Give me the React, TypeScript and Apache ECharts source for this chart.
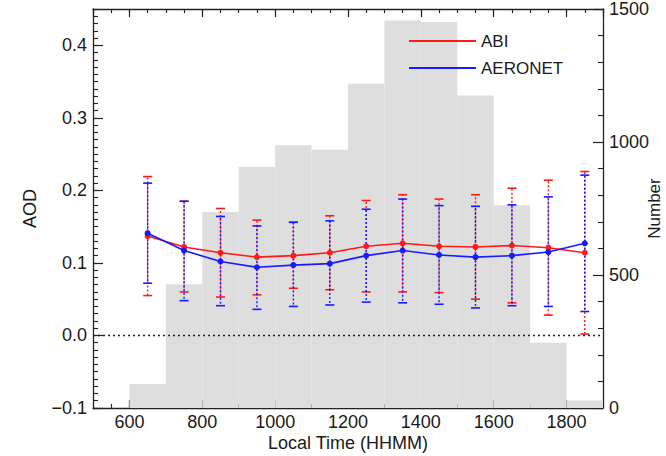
import React, { useEffect, useRef } from "react";
import * as echarts from "echarts";

// Histogram of sample counts per local-time bin (right axis)
const binStarts = [600, 700, 800, 900, 1000, 1100, 1200, 1300, 1400, 1500, 1600, 1700, 1800];
const binWidth = 100;
const binCounts = [90, 465, 737, 906, 988, 971, 1219, 1457, 1451, 1175, 762, 245, 28];

// Hourly AOD statistics (left axis)
const hours = [650, 750, 850, 950, 1050, 1150, 1250, 1350, 1450, 1550, 1650, 1750, 1850];
const abiMean = [0.137, 0.122, 0.114, 0.108, 0.110, 0.114, 0.123, 0.127, 0.123, 0.122, 0.124, 0.121, 0.114];
const abiHigh = [0.219, 0.185, 0.175, 0.159, 0.156, 0.165, 0.186, 0.194, 0.188, 0.194, 0.203, 0.214, 0.226];
const abiLow = [0.055, 0.060, 0.053, 0.056, 0.065, 0.063, 0.060, 0.060, 0.059, 0.050, 0.045, 0.028, 0.002];
const aeroMean = [0.141, 0.117, 0.102, 0.094, 0.097, 0.099, 0.110, 0.117, 0.111, 0.108, 0.110, 0.115, 0.127];
const aeroHigh = [0.210, 0.185, 0.164, 0.151, 0.156, 0.158, 0.174, 0.188, 0.179, 0.178, 0.180, 0.191, 0.221];
const aeroLow = [0.072, 0.048, 0.041, 0.036, 0.040, 0.042, 0.046, 0.045, 0.043, 0.038, 0.041, 0.040, 0.033];

const FONT = "Liberation Sans";
const TXT = "#1a1a1a";
const AX = "#222";
const RED = "#ff1a1a";
const BLUE = "#1a1aff";

function errRender(color: string, dashOffset: number) {
  return (params: any, api: any) => {
    const x = api.value(0);
    const lo = api.coord([x, api.value(1)]);
    const hi = api.coord([x, api.value(2)]);
    const cap = 4.5;
    return {
      type: "group",
      children: [
        {
          type: "line",
          shape: { x1: lo[0], y1: lo[1], x2: hi[0], y2: hi[1] },
          style: { stroke: color, lineWidth: 1.4, lineDash: [2, 2], lineDashOffset: dashOffset },
        },
        {
          type: "line",
          shape: { x1: lo[0] - cap, y1: lo[1], x2: lo[0] + cap, y2: lo[1] },
          style: { stroke: color, lineWidth: 1.6 },
        },
        {
          type: "line",
          shape: { x1: hi[0] - cap, y1: hi[1], x2: hi[0] + cap, y2: hi[1] },
          style: { stroke: color, lineWidth: 1.6 },
        },
      ],
    };
  };
}

export default function App() {
  const ref = useRef<HTMLDivElement>(null);
  useEffect(() => {
    if (!ref.current) return;
    const chart = echarts.init(ref.current, undefined, { renderer: "svg" });

    const histData = binStarts.map((s, i) => [s, s + binWidth, binCounts[i]]);
    const abiErr = hours.map((h, i) => [h, abiLow[i], abiHigh[i]]);
    const aeroErr = hours.map((h, i) => [h, aeroLow[i], aeroHigh[i]]);
    const abiLine = hours.map((h, i) => [h, abiMean[i]]);
    const aeroLine = hours.map((h, i) => [h, aeroMean[i]]);

    const lbl = { fontFamily: FONT, fontSize: 18, color: TXT };
    const xMajorBase = {
      type: "value",
      min: 500,
      max: 1900,
      splitNumber: 7,
      splitLine: { show: false },
      axisLine: { show: true, onZero: false, lineStyle: { color: AX, width: 1.3 } },
      axisTick: { show: true, inside: true, length: 8, lineStyle: { color: AX, width: 1.2 } },
    };
    const xMinorBase = {
      type: "value",
      min: 500,
      max: 1900,
      interval: 50,
      splitLine: { show: false },
      axisLine: { show: false, onZero: false },
      axisLabel: { show: false },
      axisTick: { show: true, inside: true, length: 4, lineStyle: { color: AX, width: 1.1 } },
    };

    chart.setOption({
      animation: false,
      backgroundColor: "#ffffff",
      grid: { left: 93, right: 63, top: 9, bottom: 48, containLabel: false, outerBoundsMode: "none" },
      legend: {
        orient: "vertical",
        left: 404,
        top: 27,
        itemWidth: 67,
        itemHeight: 2,
        itemGap: 9,
        textStyle: { fontFamily: FONT, fontSize: 17, color: TXT, lineHeight: 18 },
        data: [
          { name: "ABI", icon: "rect" },
          { name: "AERONET", icon: "rect" },
        ],
      },
      xAxis: [
        {
          ...xMajorBase,
          position: "bottom",
          axisLabel: {
            ...lbl,
            margin: 5,
            showMinLabel: false,
            showMaxLabel: false,
            formatter: (v: number) => (v <= 500 || v >= 1900 ? "" : String(Math.round(v))),
          },
          name: "Local Time (HHMM)",
          nameLocation: "middle",
          nameGap: 26,
          nameMoveOverlap: false,
          nameTextStyle: { fontFamily: FONT, fontSize: 18, color: TXT },
        },
        { ...xMinorBase, position: "bottom" },
        { ...xMajorBase, position: "top", axisLabel: { show: false } },
        { ...xMinorBase, position: "top" },
      ],
      yAxis: [
        {
          type: "value",
          position: "left",
          min: -0.1,
          max: 0.45,
          interval: 0.1,
          splitLine: { show: false },
          axisLine: { show: true, onZero: false, lineStyle: { color: AX, width: 1.3 } },
          axisTick: { show: true, inside: true, length: 10, lineStyle: { color: AX, width: 1.2 } },
          axisLabel: {
            ...lbl,
            margin: 6,
            showMaxLabel: false,
            formatter: (v: number) => (v > 0.44 ? "" : v.toFixed(1).replace("-", "\u2212")),
          },
          name: "AOD",
          nameLocation: "middle",
          nameGap: 54,
          nameMoveOverlap: false,
          nameTextStyle: { fontFamily: FONT, fontSize: 18, color: TXT },
        },
        {
          type: "value",
          position: "left",
          min: -0.1,
          max: 0.45,
          interval: 0.01,
          splitLine: { show: false },
          axisLine: { show: false, onZero: false },
          axisLabel: { show: false },
          axisTick: { show: true, inside: true, length: 5, lineStyle: { color: AX, width: 1.1 } },
        },
        {
          type: "value",
          position: "right",
          min: 0,
          max: 1500,
          interval: 500,
          splitLine: { show: false },
          axisLine: { show: true, onZero: false, lineStyle: { color: AX, width: 1.3 } },
          axisTick: { show: true, inside: true, length: 10, lineStyle: { color: AX, width: 1.2 } },
          minorTick: { show: true, splitNumber: 5, length: 5, lineStyle: { color: AX, width: 1.1 } },
          axisLabel: { ...lbl, margin: 6, formatter: (v: number) => String(Math.round(v)) },
          name: "Number",
          nameLocation: "middle",
          nameGap: 42,
          nameMoveOverlap: false,
          nameTextStyle: { fontFamily: FONT, fontSize: 17, color: TXT, lineHeight: 18 },
        },
      ],
      series: [
        {
          name: "Number",
          type: "custom",
          xAxisIndex: 0,
          yAxisIndex: 2,
          silent: true,
          z: 1,
          encode: { x: [0, 1], y: 2 },
          data: histData,
          renderItem: (params: any, api: any) => {
            const p0 = api.coord([api.value(0), api.value(2)]);
            const p1 = api.coord([api.value(1), 0]);
            return {
              type: "rect",
              shape: { x: p0[0], y: p0[1], width: p1[0] - p0[0], height: p1[1] - p0[1] },
              style: { fill: "#dedede" },
            };
          },
        },
        {
          name: "ABI range",
          type: "custom",
          xAxisIndex: 0,
          yAxisIndex: 0,
          silent: true,
          z: 3,
          encode: { x: 0, y: [1, 2] },
          data: abiErr,
          renderItem: errRender(RED, 0),
        },
        {
          name: "AERONET range",
          type: "custom",
          xAxisIndex: 0,
          yAxisIndex: 0,
          silent: true,
          z: 4,
          encode: { x: 0, y: [1, 2] },
          data: aeroErr,
          renderItem: errRender(BLUE, 2),
        },
        {
          name: "ABI",
          type: "line",
          xAxisIndex: 0,
          yAxisIndex: 0,
          z: 5,
          data: abiLine,
          color: RED,
          symbol: "circle",
          symbolSize: 6,
          lineStyle: { color: RED, width: 1.6 },
          itemStyle: { color: RED },
          markLine: {
            silent: true,
            symbol: "none",
            label: { show: false },
            lineStyle: { color: "#222", type: [2, 3], width: 1.3 },
            data: [{ yAxis: 0 }],
          },
        },
        {
          name: "AERONET",
          type: "line",
          xAxisIndex: 0,
          yAxisIndex: 0,
          z: 6,
          data: aeroLine,
          color: BLUE,
          symbol: "circle",
          symbolSize: 6,
          lineStyle: { color: BLUE, width: 1.6 },
          itemStyle: { color: BLUE },
        },
      ],
    });
    return () => chart.dispose();
  }, []);

  return (
    <div
      ref={ref}
      style={{ position: "absolute", left: 0, top: 0, width: 666, height: 456 }}
    />
  );
}
